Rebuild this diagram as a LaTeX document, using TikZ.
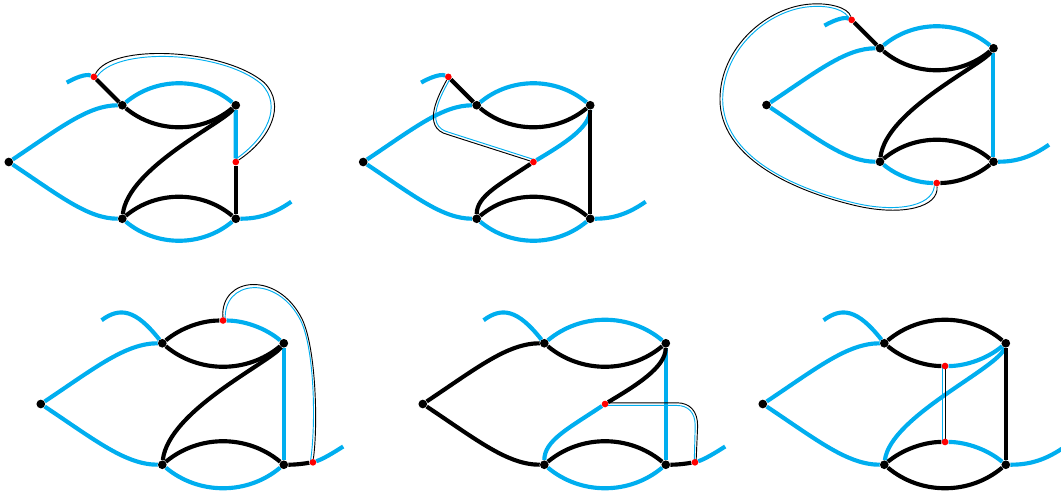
\documentclass[tikz,border=0pt]{standalone}
\usetikzlibrary{calc,backgrounds}
\definecolor{edgeblue}{RGB}{0,174,239}
\begin{document}
\begin{tikzpicture}[x=0.75pt, y=-0.75pt,
  vtx/.style={circle, fill=black, inner sep=0pt, minimum size=6.5pt},
  reddot/.style={circle, fill=red, inner sep=0pt, minimum size=5pt},
  bedge/.style={draw=edgeblue, line width=3.1pt},
  kedge/.style={draw=black, line width=3.1pt},
  rimk/.style={draw=black, line width=0.7pt},
  rimb/.style={draw=edgeblue, line width=0.7pt}]
\useasboundingbox (0,0) rectangle (1061,496);
\clip (0,0) rectangle (1061,496);

% top left
\begin{scope}[shift={(122.3,162)}, scale=113.5]
\node[vtx] (l1) at (-1,0) {};
\node[vtx] (a1) at (0,-0.5) {};
\node[vtx] (b1) at (1,-0.5) {};
\node[vtx] (c1) at (0,0.5) {};
\node[vtx] (d1) at (1,0.5) {};
\node[reddot] (p1) at (-0.25,-0.75) {};
\node[reddot] (q1) at (1,0) {};
\coordinate (s1) at (-0.49,-0.7);
\coordinate (e1) at (1.49,0.35);
\begin{scope}[on background layer]
\draw[bedge] (s1) .. controls (-0.42,-0.74) and (-0.32,-0.78) .. (p1);
\draw[bedge] (l1) .. controls (-0.55,-0.3) and (-0.3,-0.5) .. (a1);
\draw[bedge] (l1) .. controls (-0.55,0.3) and (-0.3,0.5) .. (c1);
\draw[bedge] (a1) .. controls (0.3,-0.75) and (0.7,-0.75) .. (b1);
\draw[bedge] (c1) .. controls (0.3,0.75) and (0.7,0.75) .. (d1);
\draw[bedge] (b1) -- (q1);
\draw[bedge] (d1) .. controls (1.2,0.5) and (1.33,0.46) .. (e1);
\draw[kedge] (p1) -- (a1);
\draw[kedge] (a1) .. controls (0.3,-0.25) and (0.7,-0.25) .. (b1);
\draw[kedge] (b1) .. controls (0.9,-0.35) and (0.05,0.05) .. (c1);
\draw[kedge] (c1) .. controls (0.3,0.25) and (0.7,0.25) .. (d1);
\draw[kedge] (q1) -- (d1);
\draw[rimk] (p1) .. controls (-0.1,-1.05) and (0.9,-1.0) .. (1.25,-0.7)
  .. controls (1.45,-0.5) and (1.3,-0.2) .. (q1);
\draw[rimb, scale around={0.96:(0.6,-0.4)}] ($(p1)+(0.02,0.01)$)
  .. controls (-0.1,-1.05) and (0.9,-1.0) .. (1.25,-0.7)
  .. controls (1.45,-0.5) and (1.3,-0.2) .. ($(q1)+(-0.012,-0.018)$);
\end{scope}
\end{scope}

% top middle
\begin{scope}[shift={(476.7,162)}, scale=113.5]
\node[vtx] (l2) at (-1,0) {};
\node[vtx] (a2) at (0,-0.5) {};
\node[vtx] (b2) at (1,-0.5) {};
\node[vtx] (c2) at (0,0.5) {};
\node[vtx] (d2) at (1,0.5) {};
\node[reddot] (p2) at (-0.25,-0.75) {};
\node[reddot] (x2) at (0.5,0) {};
\coordinate (s2) at (-0.49,-0.7);
\coordinate (e2) at (1.49,0.35);
\begin{scope}[on background layer]
\draw[bedge] (s2) .. controls (-0.42,-0.74) and (-0.32,-0.78) .. (p2);
\draw[bedge] (l2) .. controls (-0.55,-0.3) and (-0.3,-0.5) .. (a2);
\draw[bedge] (l2) .. controls (-0.55,0.3) and (-0.3,0.5) .. (c2);
\draw[bedge] (a2) .. controls (0.3,-0.75) and (0.7,-0.75) .. (b2);
\draw[bedge] (c2) .. controls (0.3,0.75) and (0.7,0.75) .. (d2);
\draw[bedge] (b2) .. controls (1.0,-0.3) and (0.75,-0.15) .. (x2);
\draw[bedge] (d2) .. controls (1.2,0.5) and (1.33,0.46) .. (e2);
\draw[kedge] (p2) -- (a2);
\draw[kedge] (a2) .. controls (0.3,-0.25) and (0.7,-0.25) .. (b2);
\draw[kedge] (x2) .. controls (0.2,0.2) and (0.0,0.3) .. (c2);
\draw[kedge] (c2) .. controls (0.3,0.25) and (0.7,0.25) .. (d2);
\draw[kedge] (b2) -- (d2);
\draw[rimk] (p2) .. controls (-0.33,-0.6) and (-0.5,-0.3) .. (-0.25,-0.24) -- (x2);
\draw[rimb] ($(p2)+(0.019,0.01)$) .. controls (-0.308,-0.6) and (-0.475,-0.318)
  .. (-0.243,-0.261) -- ($(x2)+(0.007,-0.021)$);
\end{scope}
\end{scope}

% top right
\begin{scope}[shift={(880,105)}, scale=113.5]
\node[vtx] (l3) at (-1,0) {};
\node[vtx] (a3) at (0,-0.5) {};
\node[vtx] (b3) at (1,-0.5) {};
\node[vtx] (c3) at (0,0.5) {};
\node[vtx] (d3) at (1,0.5) {};
\node[reddot] (p3) at (-0.25,-0.75) {};
\node[reddot] (q3) at (0.5,0.6875) {};
\coordinate (s3) at (-0.49,-0.7);
\coordinate (e3) at (1.49,0.35);
\begin{scope}[on background layer]
\draw[bedge] (s3) .. controls (-0.42,-0.74) and (-0.32,-0.78) .. (p3);
\draw[bedge] (l3) .. controls (-0.55,-0.3) and (-0.3,-0.5) .. (a3);
\draw[bedge] (l3) .. controls (-0.55,0.3) and (-0.3,0.5) .. (c3);
\draw[bedge] (a3) .. controls (0.3,-0.75) and (0.7,-0.75) .. (b3);
\draw[bedge] (b3) -- (d3);
\draw[bedge] (c3) .. controls (0.15,0.625) and (0.325,0.6875) .. (q3);
\draw[bedge] (d3) .. controls (1.2,0.5) and (1.33,0.46) .. (e3);
\draw[kedge] (p3) -- (a3);
\draw[kedge] (a3) .. controls (0.3,-0.25) and (0.7,-0.25) .. (b3);
\draw[kedge] (b3) .. controls (0.9,-0.35) and (0.05,0.05) .. (c3);
\draw[kedge] (c3) .. controls (0.3,0.25) and (0.7,0.25) .. (d3);
\draw[kedge] (q3) .. controls (0.675,0.6875) and (0.85,0.625) .. (d3);
\draw[rimk] (p3) .. controls (-0.28,-0.86) and (-0.45,-0.9) .. (-0.6,-0.89)
  .. controls (-1.0,-0.87) and (-1.41,-0.5) .. (-1.41,-0.05)
  .. controls (-1.41,0.45) and (-0.8,0.75) .. (-0.2,0.89)
  .. controls (0.2,0.98) and (0.52,0.9) .. (q3);
\draw[rimb, scale around={0.975:(-0.45,0)}] ($(p3)+(-0.02,0.005)$)
  .. controls (-0.28,-0.86) and (-0.45,-0.9) .. (-0.6,-0.89)
  .. controls (-1.0,-0.87) and (-1.41,-0.5) .. (-1.41,-0.05)
  .. controls (-1.41,0.45) and (-0.8,0.75) .. (-0.2,0.89)
  .. controls (0.2,0.98) and (0.52,0.9) .. ($(q3)+(-0.022,0)$);
\end{scope}
\end{scope}

% bottom left
\begin{scope}[shift={(162.3,404)}, scale=121.5]
\node[vtx] (l4) at (-1,0) {};
\node[vtx] (a4) at (0,-0.5) {};
\node[vtx] (b4) at (1,-0.5) {};
\node[vtx] (c4) at (0,0.5) {};
\node[vtx] (d4) at (1,0.5) {};
\node[reddot] (t4) at (0.5,-0.6875) {};
\node[reddot] (q4) at (1.24,0.48) {};
\coordinate (s4) at (-0.5,-0.69);
\coordinate (e4) at (1.49,0.35);
\begin{scope}[on background layer]
\draw[bedge] (s4) .. controls (-0.35,-0.8) and (-0.22,-0.78) .. (a4);
\draw[bedge] (l4) .. controls (-0.55,-0.3) and (-0.3,-0.5) .. (a4);
\draw[bedge] (l4) .. controls (-0.55,0.3) and (-0.3,0.5) .. (c4);
\draw[bedge] (t4) .. controls (0.675,-0.6875) and (0.85,-0.625) .. (b4);
\draw[bedge] (b4) -- (d4);
\draw[bedge] (c4) .. controls (0.3,0.75) and (0.7,0.75) .. (d4);
\draw[bedge] (q4) .. controls (1.32,0.455) and (1.41,0.4) .. (e4);
\draw[kedge] (a4) .. controls (0.15,-0.625) and (0.325,-0.6875) .. (t4);
\draw[kedge] (a4) .. controls (0.3,-0.25) and (0.7,-0.25) .. (b4);
\draw[kedge] (b4) .. controls (0.9,-0.35) and (0.05,0.05) .. (c4);
\draw[kedge] (c4) .. controls (0.3,0.25) and (0.7,0.25) .. (d4);
\draw[kedge] (d4) .. controls (1.1,0.5) and (1.17,0.49) .. (q4);
\draw[rimk] (t4) .. controls (0.48,-1.05) and (0.95,-1.1) .. (1.15,-0.7)
  .. controls (1.27,-0.45) and (1.28,0.2) .. (q4);
\draw[rimb, scale around={0.965:(0.85,-0.3)}] ($(t4)+(0.02,0)$)
  .. controls (0.48,-1.05) and (0.95,-1.1) .. (1.15,-0.7)
  .. controls (1.27,-0.45) and (1.28,0.2) .. ($(q4)+(-0.02,0)$);
\end{scope}
\end{scope}

% bottom middle
\begin{scope}[shift={(544.3,404)}, scale=121.5]
\node[vtx] (l5) at (-1,0) {};
\node[vtx] (a5) at (0,-0.5) {};
\node[vtx] (b5) at (1,-0.5) {};
\node[vtx] (c5) at (0,0.5) {};
\node[vtx] (d5) at (1,0.5) {};
\node[reddot] (x5) at (0.5,0) {};
\node[reddot] (q5) at (1.24,0.48) {};
\coordinate (s5) at (-0.5,-0.69);
\coordinate (e5) at (1.49,0.35);
\begin{scope}[on background layer]
\draw[bedge] (s5) .. controls (-0.35,-0.8) and (-0.22,-0.78) .. (a5);
\draw[bedge] (a5) .. controls (0.3,-0.75) and (0.7,-0.75) .. (b5);
\draw[bedge] (x5) .. controls (0.2,0.2) and (0.0,0.3) .. (c5);
\draw[bedge] (b5) -- (d5);
\draw[bedge] (c5) .. controls (0.3,0.75) and (0.7,0.75) .. (d5);
\draw[bedge] (q5) .. controls (1.32,0.455) and (1.41,0.4) .. (e5);
\draw[kedge] (l5) .. controls (-0.55,-0.3) and (-0.3,-0.5) .. (a5);
\draw[kedge] (l5) .. controls (-0.55,0.3) and (-0.3,0.5) .. (c5);
\draw[kedge] (a5) .. controls (0.3,-0.25) and (0.7,-0.25) .. (b5);
\draw[kedge] (b5) .. controls (1.0,-0.3) and (0.75,-0.15) .. (x5);
\draw[kedge] (c5) .. controls (0.3,0.25) and (0.7,0.25) .. (d5);
\draw[kedge] (d5) .. controls (1.1,0.5) and (1.17,0.49) .. (q5);
\draw[rimk] ($(x5)+(0,-0.01)$) -- (1.09,-0.01) .. controls (1.2,-0.01) and (1.262,0.06)
  .. (1.262,0.18) -- ($(q5)+(0.01,0)$);
\draw[rimb] ($(x5)+(0,0.012)$) -- (1.09,0.012) .. controls (1.185,0.012) and (1.242,0.07)
  .. (1.242,0.18) -- ($(q5)+(-0.005,0)$);
\end{scope}
\end{scope}

% bottom right
\begin{scope}[shift={(884.3,404)}, scale=121.5]
\node[vtx] (l6) at (-1,0) {};
\node[vtx] (a6) at (0,-0.5) {};
\node[vtx] (b6) at (1,-0.5) {};
\node[vtx] (c6) at (0,0.5) {};
\node[vtx] (d6) at (1,0.5) {};
\node[reddot] (t6) at (0.5,-0.3125) {};
\node[reddot] (u6) at (0.5,0.3125) {};
\coordinate (s6) at (-0.5,-0.69);
\coordinate (e6) at (1.49,0.35);
\begin{scope}[on background layer]
\draw[bedge] (s6) .. controls (-0.35,-0.8) and (-0.22,-0.78) .. (a6);
\draw[bedge] (l6) .. controls (-0.55,-0.3) and (-0.3,-0.5) .. (a6);
\draw[bedge] (l6) .. controls (-0.55,0.3) and (-0.3,0.5) .. (c6);
\draw[bedge] (t6) .. controls (0.675,-0.3125) and (0.85,-0.375) .. (b6);
\draw[bedge] (b6) .. controls (0.95,-0.3) and (0.05,0.1) .. (c6);
\draw[bedge] (u6) .. controls (0.675,0.3125) and (0.85,0.375) .. (d6);
\draw[bedge] (d6) .. controls (1.2,0.5) and (1.33,0.46) .. (e6);
\draw[kedge] (a6) .. controls (0.3,-0.75) and (0.7,-0.75) .. (b6);
\draw[kedge] (a6) .. controls (0.15,-0.375) and (0.325,-0.3125) .. (t6);
\draw[kedge] (b6) -- (d6);
\draw[kedge] (c6) .. controls (0.15,0.375) and (0.325,0.3125) .. (u6);
\draw[kedge] (c6) .. controls (0.3,0.75) and (0.7,0.75) .. (d6);
\draw[rimk] ($(t6)+(0.004,0)$) -- ($(u6)+(0.004,0)$);
\draw[rimb] ($(t6)+(-0.02,0)$) -- ($(u6)+(-0.02,0)$);
\end{scope}
\end{scope}
\end{tikzpicture}
\end{document}
